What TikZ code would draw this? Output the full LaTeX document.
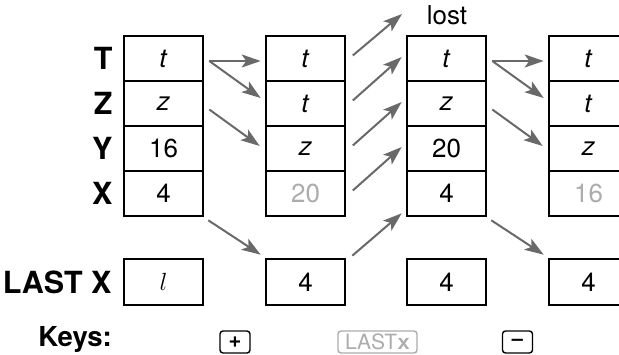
\documentclass[tikz,border=0pt]{standalone}
\usepackage{fontspec}
\setmainfont{TeX Gyre Heros}
\newfontfamily\keymono{Liberation Mono}
\usetikzlibrary{arrows.meta,positioning}
\definecolor{arrowgray}{RGB}{105,105,105}
\definecolor{fadedgray}{RGB}{172,172,172}
\begin{document}
\begin{tikzpicture}[x=1pt,y=-1pt,>={Stealth[length=19pt,width=13pt,inset=4.5pt]},
  cell/.style={draw,line width=2.6pt,minimum width=79pt,minimum height=45pt,inner sep=0pt,font=\fontsize{26}{26}\selectfont},
  reg/.style={font=\fontsize{30.5}{30.5}\selectfont\bfseries,inner sep=0pt,anchor=east},
  arr/.style={->,draw=arrowgray,line width=2pt},
  key/.style={draw,rounded corners=3pt,line width=1.4pt,minimum width=30pt,minimum height=22pt,inner sep=0pt}]
\useasboundingbox (0,0) rectangle (619,355);
\clip (0,0) rectangle (619,355);
\foreach \c/\xc/\vt/\vz/\vy/\vx/\vl in {
  1/163.5/\textit{t}/\textit{z}/16/4/$l$,
  2/305.5/\textit{t}/\textit{t}/\textit{z}/{\color{fadedgray}20}/4,
  3/446.5/\textit{t}/\textit{z}/20/4/4,
  4/588.5/\textit{t}/\textit{t}/\textit{z}/{\color{fadedgray}16}/4}
{
    \node[cell] (T\c) at (\xc,58.5) {\vt};
    \node[cell] (Z\c) at (\xc,103.5) {\vz};
    \node[cell] (Y\c) at (\xc,148.5) {\vy};
    \node[cell] (X\c) at (\xc,193.5) {\vx};
    \node[cell,minimum height=46pt] (L\c) at (\xc,282) {\vl};
}
\node[reg,left=10pt of T1] (labT) {T};
\node[reg,left=10pt of Z1] (labZ) {Z};
\node[reg,left=10pt of Y1] (labY) {Y};
\node[reg,left=10pt of X1] (labX) {X};
\node[reg,left=11pt of L1] (labL) {LAST X};
% shifts down the stack
\foreach \a/\b in {1/2,3/4}
{
    \draw[arr] ([xshift=5pt,yshift=-2.5pt]T\a.east) -- ([xshift=-4pt,yshift=-2.5pt]T\b.west);
    \draw[arr] ([xshift=5pt,yshift=-2.5pt]T\a.east) -- ([xshift=-4pt,yshift=5.5pt]Z\b.west);
    \draw[arr] ([xshift=5pt,yshift=-6pt]Z\a.east) -- ([xshift=-5pt,yshift=2.5pt]Y\b.west);
    \draw[arr] ([xshift=4pt,yshift=-3pt]X\a.south east) -- ([xshift=-4pt,yshift=3pt]L\b.north west);
}
% shifts up the stack
\node[font=\fontsize{26}{26}\selectfont,anchor=base] (lost) at (447,25) {lost};
\coordinate (lostend) at (402,14);
\draw[arr] ([xshift=6.5pt,yshift=3pt]T2.east) -- (lostend);
\foreach \a/\b in {Z2/T3,Y2/Z3,X2/Y3}
    \draw[arr] ([xshift=6.5pt,yshift=3pt]\a.east) -- ([xshift=-4pt,yshift=1.5pt]\b.west);
\draw[arr] ([xshift=6pt,yshift=2pt]L2.north east) -- ([xshift=-4pt,yshift=4pt]X3.south west);
\node[reg,font=\fontsize{27.5}{27.5}\selectfont\bfseries,anchor=base east] (keys) at (112,347) {Keys:};
\node[key,font=\fontsize{22}{22}\selectfont\bfseries] (plus) at (235,342) {+};
\node[key,draw=fadedgray,text=fadedgray,minimum width=79pt,font=\fontsize{21}{21}\selectfont] (lastx) at (377.5,342) {LAST{\keymono\bfseries x}};
\node[key,font=\fontsize{20}{20}\selectfont\bfseries] (minus) at (517.5,342) {\textendash};
\end{tikzpicture}
\end{document}
